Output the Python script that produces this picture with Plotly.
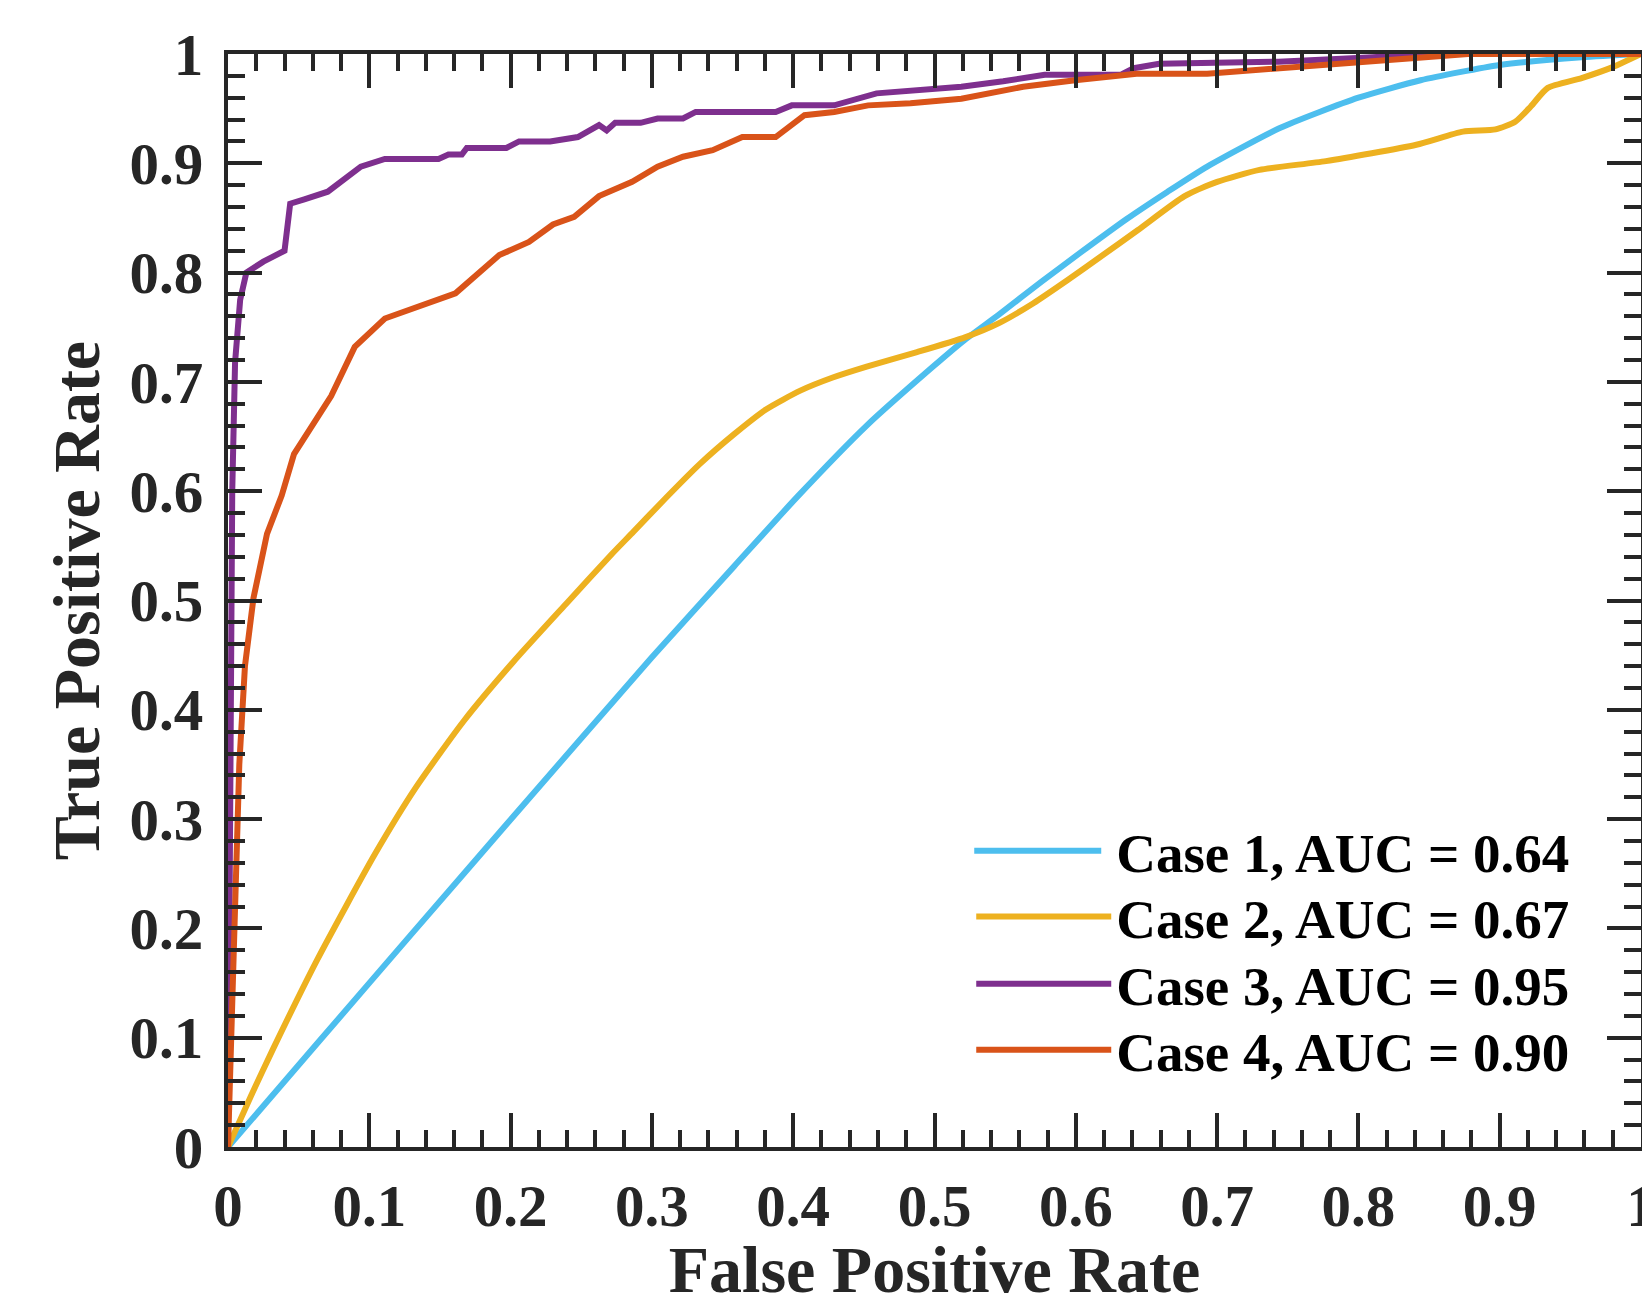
import plotly.graph_objects as go

# ---------------- data ----------------
case1_fpr = [0, 0.064, 0.13, 0.197, 0.30, 0.358, 0.403, 0.452, 0.499, 0.521, 0.546, 0.576, 0.603, 0.636,
             0.665, 0.693, 0.744, 0.80, 0.844, 0.90, 0.958, 1.0]
case1_tpr = [0, 0.096, 0.195, 0.295, 0.448, 0.531, 0.595, 0.660, 0.714, 0.738, 0.762, 0.792, 0.818, 0.849,
             0.874, 0.897, 0.932, 0.960, 0.976, 0.990, 0.997, 1.0]

case2_fpr = [0, 0.016, 0.032, 0.063, 0.104, 0.133, 0.167, 0.202, 0.240, 0.272, 0.287, 0.310, 0.334, 0.358,
             0.381, 0.405, 0.428, 0.452, 0.487, 0.522, 0.546, 0.570, 0.594, 0.617, 0.644, 0.677, 0.700,
             0.730, 0.777, 0.841, 0.874, 0.897, 0.911, 0.922, 0.934, 0.958, 0.980, 1.0]
case2_tpr = [0, 0.046, 0.090, 0.171, 0.268, 0.329, 0.390, 0.444, 0.498, 0.543, 0.563, 0.594, 0.625, 0.652,
             0.675, 0.692, 0.704, 0.714, 0.727, 0.741, 0.754, 0.772, 0.793, 0.814, 0.839, 0.870, 0.883,
             0.894, 0.902, 0.917, 0.929, 0.931, 0.938, 0.952, 0.969, 0.978, 0.988, 1.0]

case3_fpr = [0, 0.001, 0.003, 0.005, 0.0086, 0.013, 0.025, 0.040, 0.044, 0.054, 0.0706, 0.094, 0.111, 0.149,
             0.156, 0.1655, 0.169, 0.197, 0.206, 0.228, 0.2476, 0.2626, 0.268, 0.274, 0.292, 0.304, 0.322,
             0.331, 0.3876, 0.399, 0.429, 0.459, 0.489, 0.519, 0.5486, 0.578, 0.632, 0.641, 0.659, 0.7435,
             0.810, 0.844, 1.0]
case3_tpr = [0, 0.30, 0.60, 0.718, 0.775, 0.800, 0.810, 0.820, 0.863, 0.867, 0.874, 0.897, 0.904, 0.904,
             0.908, 0.908, 0.914, 0.914, 0.920, 0.920, 0.924, 0.935, 0.930, 0.937, 0.937, 0.941, 0.941,
             0.947, 0.947, 0.953, 0.953, 0.964, 0.967, 0.970, 0.975, 0.981, 0.981, 0.987, 0.991, 0.993,
             0.997, 1.0, 1.0]

case4_fpr = [0, 0.002, 0.005, 0.008, 0.012, 0.018, 0.0276, 0.038, 0.0467, 0.073, 0.0897, 0.111, 0.161,
             0.192, 0.213, 0.230, 0.245, 0.2626, 0.286, 0.304, 0.322, 0.343, 0.364, 0.3876, 0.408, 0.429,
             0.453, 0.483, 0.519, 0.5627, 0.5995, 0.643, 0.693, 0.7435, 0.810, 0.8776, 1.0]
case4_tpr = [0, 0.10, 0.25, 0.35, 0.44, 0.502, 0.561, 0.596, 0.634, 0.687, 0.732, 0.758, 0.781,
             0.816, 0.828, 0.844, 0.851, 0.870, 0.883, 0.897, 0.906, 0.912, 0.924, 0.924, 0.944, 0.947,
             0.953, 0.955, 0.959, 0.970, 0.976, 0.982, 0.982, 0.987, 0.993, 1.0, 1.0]

case_names = ["Case 1, AUC = 0.64", "Case 2, AUC = 0.67", "Case 3, AUC = 0.95", "Case 4, AUC = 0.90"]
tick_vals = [0, 0.1, 0.2, 0.3, 0.4, 0.5, 0.6, 0.7, 0.8, 0.9, 1.0]
tick_text = ["0", "0.1", "0.2", "0.3", "0.4", "0.5", "0.6", "0.7", "0.8", "0.9", "1"]

# ---------------- styling ----------------
colors = ["#4DBEEE", "#EDB120", "#7E2F8E", "#D95319"]
shapes = ["spline", "spline", "linear", "linear"]
legend_ids = ["legend", "legend2", "legend3", "legend4"]
legend_rows_y = [0.2709, 0.2106, 0.1492, 0.0888]   # legend row centres (paper fraction)
AX = "#262626"
FONT = "Liberation Serif"

series = [(case1_fpr, case1_tpr), (case2_fpr, case2_tpr), (case3_fpr, case3_tpr), (case4_fpr, case4_tpr)]

fig = go.Figure()
for (xs, ys), name, col, shp, lg in zip(series, case_names, colors, shapes, legend_ids):
    fig.add_trace(go.Scatter(
        x=xs, y=ys, mode="lines", name=name, legend=lg,
        line=dict(color=col, width=6, shape=shp, smoothing=0.6 if shp == "spline" else None),
    ))

axis_common = dict(
    range=[0, 1],
    tickvals=tick_vals,
    ticktext=tick_text,
    ticks="inside",
    ticklen=34,
    tickwidth=4,
    tickcolor=AX,
    showline=True,
    linewidth=4,
    linecolor=AX,
    mirror="ticks",
    showgrid=False,
    zeroline=False,
    ticklabeloverflow="allow",
    minor=dict(ticks="inside", ticklen=17, tickwidth=4, tickcolor=AX, dtick=0.02, tick0=0, showgrid=False),
    tickfont=dict(family=FONT, size=59, color=AX, weight="bold"),
)

fig.update_xaxes(**axis_common, ticklabelstandoff=4,
                 title=dict(text="False Positive Rate", standoff=24,
                            font=dict(family=FONT, size=66, color=AX, weight="bold")))
fig.update_yaxes(**axis_common, ticklabelstandoff=9,
                 title=dict(text="True Positive Rate", standoff=9,
                            font=dict(family=FONT, size=66, color=AX, weight="bold")))

legend_style = dict(
    x=0.526, xanchor="left", yanchor="middle",
    bgcolor="rgba(0,0,0,0)", borderwidth=0, itemwidth=135,
    font=dict(family=FONT, size=55, color="black", weight="bold"),
)
fig.update_layout(
    width=1642, height=1306,
    margin=dict(l=228, r=1, t=54, b=159, autoexpand=False),
    paper_bgcolor="white",
    plot_bgcolor="white",
    showlegend=True,
    legend=dict(y=legend_rows_y[0], **legend_style),
    legend2=dict(y=legend_rows_y[1], **legend_style),
    legend3=dict(y=legend_rows_y[2], **legend_style),
    legend4=dict(y=legend_rows_y[3], **legend_style),
)

# page tweaks: no body margin; MATLAB-style long legend line samples ending 15px before the text
post = """
document.body.style.margin = '0';
document.body.style.overflow = 'hidden';
var gd = document.getElementById('{plot_id}');
gd.querySelectorAll('g.traces').forEach(function(tr) {
  var txt = tr.querySelector('text.legendtext');
  var ln = tr.querySelector('path.js-line');
  if (!txt || !ln) return;
  var tl = txt.getBoundingClientRect().left;
  var m = ln.parentNode.getScreenCTM();
  var x1 = (tl - 15 - m.e) / m.a;
  var x0 = x1 - 127 / m.a;
  ln.setAttribute('d', 'M' + x0 + ',0H' + x1);
});
"""

fig.write_html("out.html", post_script=post, config={"displayModeBar": False})
